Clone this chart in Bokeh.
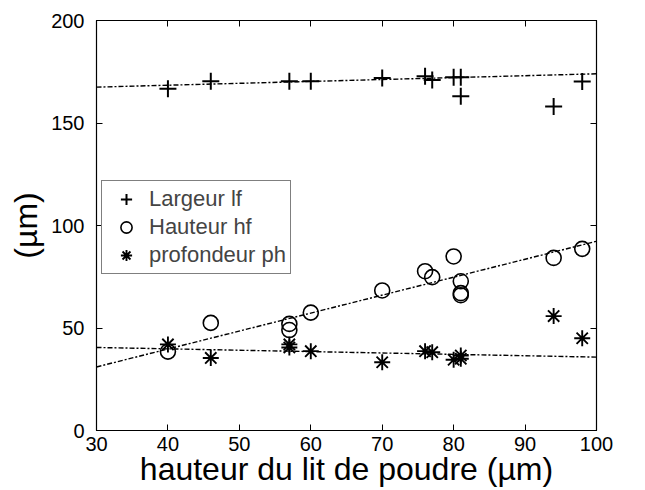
from bokeh.plotting import figure
from bokeh.models import Range1d, LinearAxis, FixedTicker, Legend, LegendItem
from bokeh.embed import file_html
from bokeh.resources import INLINE

# Data
x_lf = [40, 46, 57, 60, 70, 76, 77, 80, 81, 81, 94, 98]
lf = [166.7, 170.4, 170.4, 170.4, 171.9, 172.8, 171.0, 172.3, 172.3, 163.0, 158.0, 170.2]

x_hf = [40, 46, 57, 57, 60, 70, 76, 77, 80, 81, 81, 81, 94, 98]
hf = [38.5, 52.5, 52.0, 49.0, 57.5, 68.3, 77.7, 74.8, 84.9, 72.8, 67.0, 66.0, 84.2, 88.6]

x_ph = [40, 46, 57, 57, 60, 70, 76, 77, 80, 81, 81, 94, 98]
ph = [42.0, 35.4, 42.0, 40.5, 38.7, 33.3, 38.7, 38.2, 34.5, 36.6, 35.0, 55.8, 45.0]

fit_x = [30, 100]
lf_fit = [167.5, 174.0]
hf_fit = [31.0, 92.3]
ph_fit = [40.5, 35.8]

x_ticks = [30, 40, 50, 60, 70, 80, 90, 100]
y_ticks = [0, 50, 100, 150, 200]

FONT = "Liberation Sans"

p = figure(width=645, height=490, output_backend="svg", toolbar_location=None,
           x_range=Range1d(30, 100), y_range=Range1d(0, 200),
           min_border_left=96, min_border_right=49, min_border_top=20, min_border_bottom=60)
p.xgrid.visible = False
p.ygrid.visible = False
p.outline_line_color = "black"
p.outline_line_width = 1.2
p.background_fill_color = "white"
p.border_fill_color = "white"

for ax in (p.xaxis[0], p.yaxis[0]):
    ax.major_tick_in = 6
    ax.major_tick_out = 0
    ax.minor_tick_in = 0
    ax.minor_tick_out = 0
    ax.axis_line_color = "black"
    ax.major_label_text_font = FONT
    ax.major_label_text_font_size = "20px"
    ax.major_label_text_color = "black"
    ax.axis_label_text_font = FONT
    ax.axis_label_text_font_style = "normal"
    ax.axis_label_text_color = "black"

p.xaxis[0].ticker = FixedTicker(ticks=x_ticks)
p.yaxis[0].ticker = FixedTicker(ticks=y_ticks)
p.xaxis[0].axis_label = "hauteur du lit de poudre (µm)"
p.yaxis[0].axis_label = "(µm)"
p.xaxis[0].axis_label_text_font_size = "32px"
p.yaxis[0].axis_label_text_font_size = "32px"
p.xaxis[0].major_label_standoff = 6
p.xaxis[0].axis_label_standoff = -3
p.yaxis[0].major_label_standoff = 12
p.yaxis[0].axis_label_standoff = 4

# box ticks on top and right
top = LinearAxis(ticker=FixedTicker(ticks=x_ticks), major_tick_in=6, major_tick_out=0,
                 minor_tick_in=0, minor_tick_out=0, major_label_text_font_size="0px")
right = LinearAxis(ticker=FixedTicker(ticks=y_ticks), major_tick_in=6, major_tick_out=0,
                   minor_tick_in=0, minor_tick_out=0, major_label_text_font_size="0px")
p.add_layout(top, "above")
p.add_layout(right, "right")

dash = "5 2 2 2"
p.line(fit_x, lf_fit, line_color="black", line_width=1.4, line_dash=dash)
p.line(fit_x, hf_fit, line_color="black", line_width=1.4, line_dash=dash)
p.line(fit_x, ph_fit, line_color="black", line_width=1.4, line_dash=dash)

r_lf = p.scatter(x_lf, lf, marker="cross", size=17, line_color="black", line_width=2)
r_hf = p.scatter(x_hf, hf, marker="circle", size=15, line_color="black", line_width=1.6,
                 fill_color=None)
r_ph = p.scatter(x_ph, ph, marker="asterisk", size=16, line_color="black", line_width=1.9)

legend = Legend(items=[LegendItem(label="Largeur lf", renderers=[r_lf]),
                       LegendItem(label="Hauteur hf", renderers=[r_hf]),
                       LegendItem(label="profondeur ph", renderers=[r_ph])],
                location=(5, 156), padding=4, spacing=0, margin=0,
                glyph_width=40, glyph_height=28, label_height=28, label_standoff=3,
                label_text_font=FONT, label_text_font_size="22px",
                border_line_color="black", border_line_width=1.2,
                background_fill_color="white", background_fill_alpha=1)
p.add_layout(legend, "center")

open("out.html", "w").write(file_html(p, INLINE))
